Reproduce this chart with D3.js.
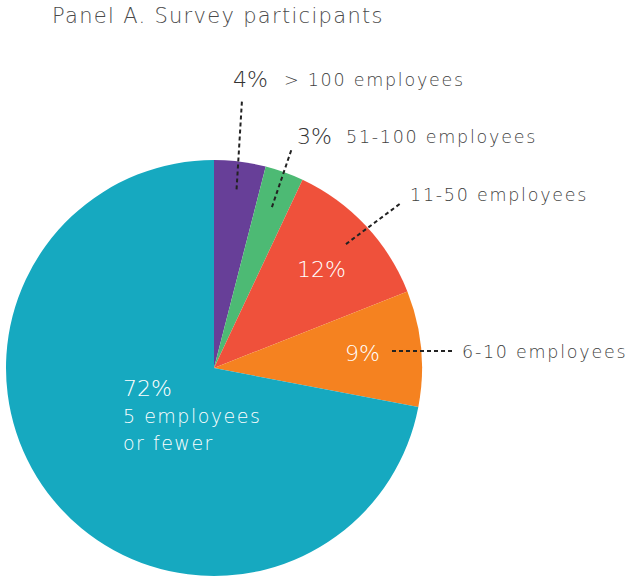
<!DOCTYPE html>
<html>
<head>
<meta charset="utf-8">
<script src="https://cdn.jsdelivr.net/npm/d3@7"></script>
<style>
  body { margin: 0; background: #fff; }
  svg text { font-family: "DejaVu Sans", "Noto Sans", sans-serif; font-weight: 200; }
</style>
</head>
<body>
<svg id="chart" width="632" height="578"></svg>
<script>
// Company size groups, in clockwise order from 12 o'clock
const categories = ["> 100 employees", "51-100 employees", "11-50 employees", "6-10 employees", "5 employees or fewer"];
const shares = [4, 3, 12, 9, 72];
const colors = ["#673f98", "#4dba74", "#ef513b", "#f58220", "#16a9c0"];
const title = "Panel A. Survey participants";

const svg = d3.select("#chart");
const cx = 214, cy = 368, radius = 208;

svg.append("text")
  .attr("x", 52).attr("y", 23)
  .attr("font-size", 21).attr("letter-spacing", 1.3).attr("fill", "#4a4a4a")
  .text(title);

const pie = d3.pie().sort(null).value(d => d)(shares);
const arc = d3.arc().innerRadius(0).outerRadius(radius);

const g = svg.append("g").attr("transform", `translate(${cx},${cy})`);
g.selectAll("path").data(pie).join("path")
  .attr("d", arc)
  .attr("fill", (d, i) => colors[i]);

// Point on a ray from the centre at a given angle (radians from 12 o'clock)
const polar = (a, r) => [cx + r * Math.sin(a), cy - r * Math.cos(a)];
const mid = d => (d.startAngle + d.endAngle) / 2;

const leader = (p0, p1) => svg.append("line")
  .attr("x1", p0[0]).attr("y1", p0[1]).attr("x2", p1[0]).attr("y2", p1[1])
  .attr("stroke", "#222").attr("stroke-width", 2).attr("stroke-dasharray", "4,3");

const label = (x, y, text) => svg.append("text")
  .attr("x", x).attr("y", y)
  .attr("font-size", 17.5).attr("letter-spacing", 1.75).attr("fill", "#3f3f3f")
  .text(text);

const pct = (x, y, v, fill) => svg.append("text")
  .attr("x", x).attr("y", y)
  .attr("font-size", 22).attr("fill", fill)
  .text(v + "%");

// > 100 employees
leader(polar(mid(pie[0]), 180), [242, 100]);
pct(233, 87, shares[0], "#333");
label(284, 86, categories[0]);

// 51-100 employees
leader(polar(mid(pie[1]), 171), [292, 148]);
pct(297, 144, shares[1], "#333");
label(346, 143, categories[1]);

// 11-50 employees
leader(polar(mid(pie[2]), 181), [401, 203]);
label(410, 201, categories[2]);
pct(297, 277, shares[2], "#fff");

// 6-10 employees
leader([392, 351], [452, 351]);
label(462, 358, categories[3]);
pct(345, 361, shares[3], "#fff");

// 5 employees or fewer
pct(123, 396, shares[4], "#fff");
const words = categories[4].split(" ");
const small = svg.append("text").attr("x", 123).attr("y", 423)
  .attr("font-size", 19).attr("letter-spacing", 1.5).attr("fill", "#fff");
small.append("tspan").attr("x", 123).text(words.slice(0, 2).join(" "));
small.append("tspan").attr("x", 123).attr("dy", 27).text(words.slice(2).join(" "));
</script>
</body>
</html>
